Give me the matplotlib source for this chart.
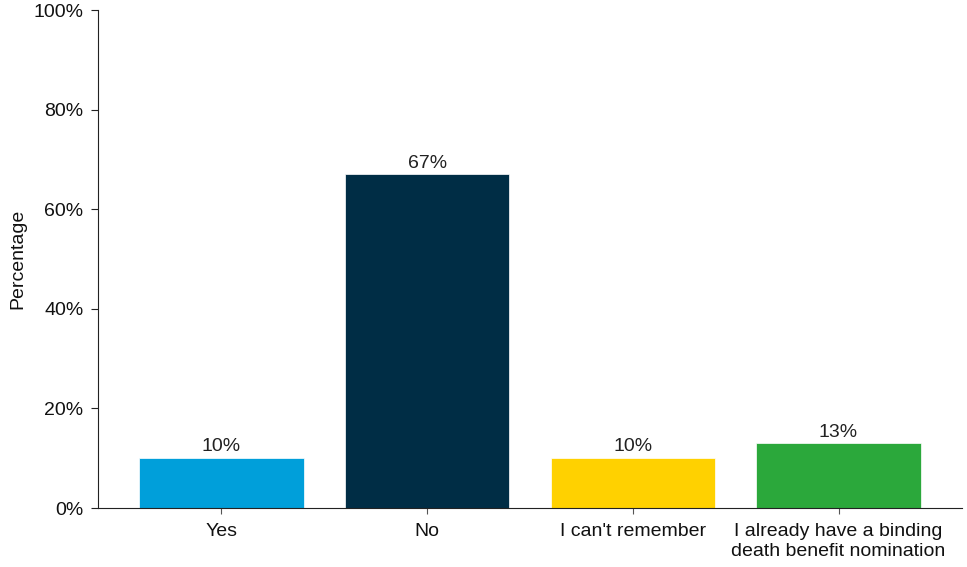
import matplotlib
matplotlib.use("Agg")
import matplotlib.pyplot as plt
from matplotlib.ticker import FuncFormatter

categories = ["Yes", "No", "I can't remember", "I already have a binding\ndeath benefit nomination"]
values = [10, 67, 10, 13]
colors = ["#009FDA", "#002D45", "#FFD100", "#2BA83B"]
yticks = [0, 20, 40, 60, 80, 100]

plt.rcParams['font.family'] = ['Liberation Sans', 'DejaVu Sans']

fig = plt.figure(figsize=(9.67, 5.67), dpi=100)
ax = fig.add_axes([0.1013, 0.104, 0.8935, 0.878])

x = list(range(len(categories)))
bars = ax.bar(x, values, width=0.8, color=colors, edgecolor="white", linewidth=0.5)
for xi, v in zip(x, values):
    ax.annotate(f"{v}%", (xi, v), xytext=(0, 2), textcoords="offset points",
                ha="center", va="bottom", fontsize=14, color="#222222")

ax.set_xlim(-0.6, 3.6)
ax.set_ylim(0, 100)
ax.set_yticks(yticks)
ax.yaxis.set_major_formatter(FuncFormatter(lambda v, p: f"{int(v)}%"))
ax.set_xticks(x)
ax.set_xticklabels(categories, fontsize=14, linespacing=1.2, color="#111111")
ax.tick_params(axis='y', labelsize=14, length=5, color="#222222", labelcolor="#111111", pad=5.5)
ax.tick_params(axis='x', length=4, color="#555555", pad=7)
ax.set_ylabel("Percentage", fontsize=14, color="#111111", labelpad=5)
ax.spines['top'].set_visible(False)
ax.spines['right'].set_visible(False)
ax.spines['left'].set_color("#222222")
ax.spines['bottom'].set_color("#222222")

fig.savefig("out.png", dpi=100)
